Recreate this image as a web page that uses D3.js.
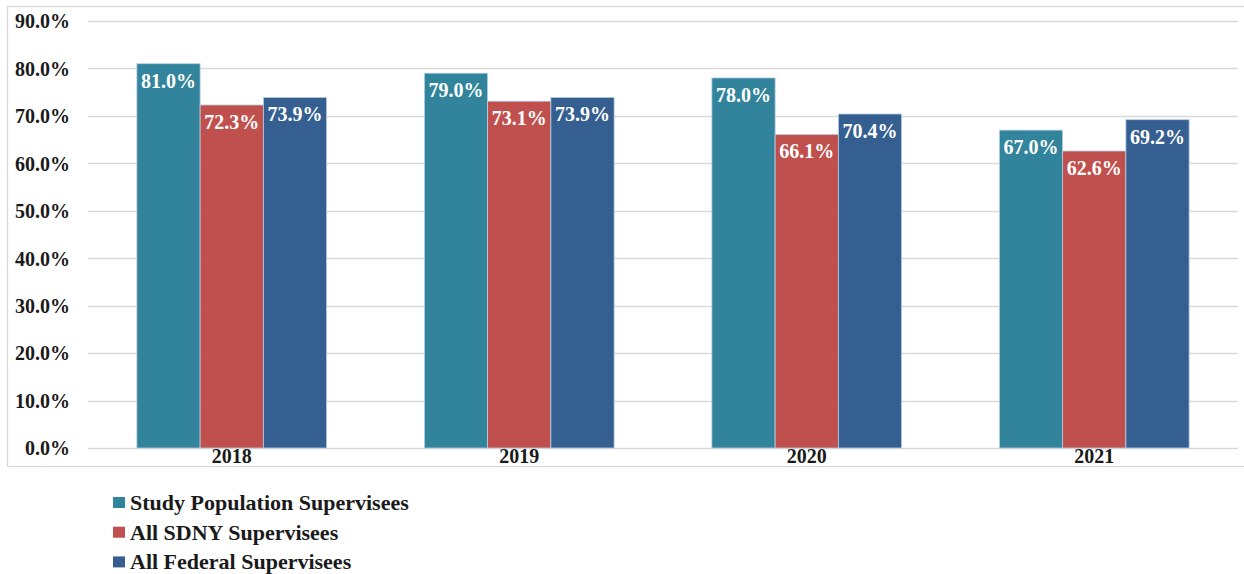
<!DOCTYPE html>
<html>
<head>
<meta charset="utf-8">
<script src="https://d3js.org/d3.v7.min.js"></script>
<style>
  body { margin: 0; background: #fff; }
  svg text { font-family: 'Liberation Serif', 'Times New Roman', serif; font-weight: bold; }
</style>
</head>
<body>
<div id="chart"></div>
<script>
// data
var years = ["2018", "2019", "2020", "2021"];
var seriesNames = ["Study Population Supervisees", "All SDNY Supervisees", "All Federal Supervisees"];
var studyPop = [81.0, 79.0, 78.0, 67.0];
var allSdny = [72.3, 73.1, 66.1, 62.6];
var allFederal = [73.9, 73.9, 70.4, 69.2];
var yTicks = [0, 10, 20, 30, 40, 50, 60, 70, 80, 90];
var colors = ["#31849b", "#c0504d", "#365f91"];

var width = 1244, height = 574;
var plot = { left: 88, right: 1238, top: 21, bottom: 448 };

var svg = d3.select("#chart").append("svg")
  .attr("width", width)
  .attr("height", height);

// outer frame of the chart area
svg.append("rect")
  .attr("x", 7.5).attr("y", 6.5)
  .attr("width", 1250).attr("height", 460)
  .attr("fill", "none")
  .attr("stroke", "#d9d9d9")
  .attr("stroke-width", 1.3);

var x0 = d3.scaleBand()
  .domain(years)
  .range([plot.left, plot.right])
  .paddingInner(0.34).paddingOuter(0.17);  // 150% gap width

var x1 = d3.scaleBand()
  .domain(d3.range(seriesNames.length))
  .range([0, x0.bandwidth()]);

var y = d3.scaleLinear()
  .domain([0, 90])
  .range([plot.bottom, plot.top]);

// gridlines
svg.append("g")
  .selectAll("line")
  .data(yTicks)
  .enter()
  .append("line")
  .attr("x1", plot.left).attr("x2", plot.right)
  .attr("y1", function(d) { return Math.round(y(d)) + 0.5; })
  .attr("y2", function(d) { return Math.round(y(d)) + 0.5; })
  .attr("stroke", "#d9d9d9")
  .attr("stroke-width", 1.4);

// y axis labels
var yAxis = d3.axisLeft(y)
  .tickValues(yTicks)
  .tickSize(0)
  .tickPadding(0)
  .tickFormat(function(d) { return d.toFixed(1) + "%"; });

var ya = svg.append("g")
  .attr("transform", "translate(70,0)")
  .call(yAxis);
ya.select(".domain").remove();
ya.selectAll("text")
  .attr("dy", "0.34em")
  .style("font-size", "20px")
  .attr("fill", "#1a1a1a");

// x axis labels
var xAxis = d3.axisBottom(x0).tickSize(0).tickPadding(0);
var xa = svg.append("g")
  .attr("transform", "translate(0," + plot.bottom + ")")
  .call(xAxis);
xa.select(".domain").remove();
xa.selectAll("text")
  .attr("dy", 0)
  .attr("y", 15)
  .style("font-size", "20px")
  .attr("fill", "#1a1a1a");

var rows = years.map(function(yr, i) {
  return { year: yr, values: [studyPop[i], allSdny[i], allFederal[i]] };
});

var groups = svg.append("g")
  .selectAll("g")
  .data(rows)
  .enter()
  .append("g")
  .attr("transform", function(d) { return "translate(" + x0(d.year) + ",0)"; });

var cells = groups.selectAll("g")
  .data(function(d) { return d.values.map(function(v, k) { return { k: k, v: v }; }); })
  .enter()
  .append("g");

cells.append("rect")
  .attr("x", function(d) { return x1(d.k); })
  .attr("width", x1.bandwidth())
  .attr("y", function(d) { return y(d.v); })
  .attr("height", function(d) { return plot.bottom - y(d.v); })
  .attr("fill", function(d) { return colors[d.k]; })
  .attr("stroke", "#b9d0e4")
  .attr("stroke-width", 0.8);

cells.append("text")
  .attr("x", function(d) { return x1(d.k) + x1.bandwidth() / 2; })
  .attr("y", function(d) { return y(d.v) + 24; })
  .attr("text-anchor", "middle")
  .attr("fill", "#ffffff")
  .style("font-size", "20px")
  .text(function(d) { return d.v.toFixed(1) + "%"; });

// legend
var legend = svg.append("g")
  .selectAll("g")
  .data(seriesNames)
  .enter()
  .append("g")
  .attr("transform", function(d, i) { return "translate(113," + (502.5 + i * 29.7) + ")"; });

legend.append("rect")
  .attr("x", 0).attr("y", -5.5)
  .attr("width", 12).attr("height", 11)
  .attr("fill", function(d, i) { return colors[i]; });

legend.append("text")
  .attr("x", 17)
  .attr("y", 0)
  .attr("dy", "0.34em")
  .attr("fill", "#1a1a1a")
  .style("font-size", "22px")
  .text(function(d) { return d; });
</script>
</body>
</html>
